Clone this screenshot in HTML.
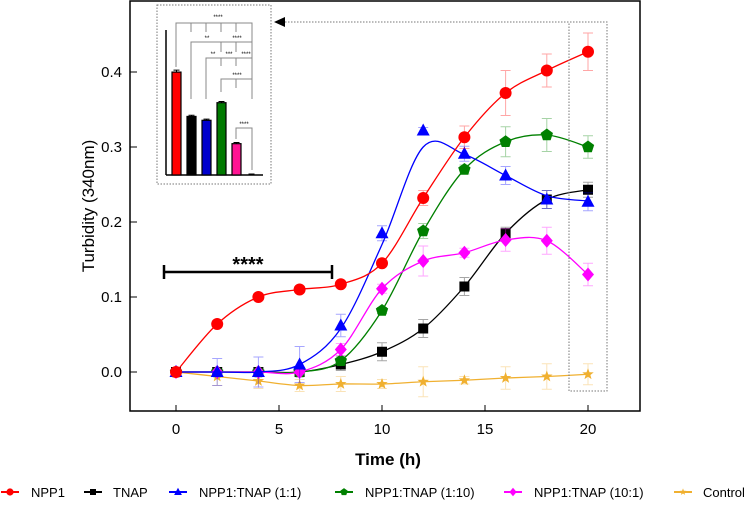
<!DOCTYPE html>
<html><head><meta charset="utf-8"><style>
body{margin:0;background:#fff;}
svg{display:block;font-family:"Liberation Sans",Arial,sans-serif;}
</style></head><body>
<svg id="chart" width="749" height="510" viewBox="0 0 749 510">
<rect x="130" y="1" width="510" height="410" fill="none" stroke="#000" stroke-width="1.5"/>
<g id="axes"></g>
<g id="series"></g>
<g id="inset"></g>
<text x="0" y="0" transform="translate(94,206) rotate(-90)" text-anchor="middle" font-size="17">Turbidity (340nm)</text>
<text x="388" y="465" text-anchor="middle" font-size="17" font-weight="bold">Time (h)</text>
<g id="legend"></g>
</svg>
<script>
const times=[0,2,4,6,8,10,12,14,16,18,20];
const npp1=[0,0.064,0.1,0.11,0.117,0.145,0.232,0.313,0.372,0.402,0.427];
const tnap=[0,0,0,0,0.01,0.027,0.058,0.114,0.185,0.23,0.243];
const mix11=[0,0,0,0.01,0.062,0.185,0.322,0.291,0.262,0.23,0.227];
const mix11Fit=[0,0,0,0.01,0.058,0.17,0.30,0.29,0.262,0.235,0.228];
const mix110=[0,0,0,0,0.015,0.082,0.188,0.27,0.307,0.316,0.3];
const mix101=[0,0,0,0,0.03,0.111,0.148,0.159,0.176,0.175,0.13];
const control=[0,-0.006,-0.012,-0.018,-0.016,-0.016,-0.013,-0.011,-0.008,-0.006,-0.003];
const errNpp1=[0,0,0,0,0,0,0.01,0.015,0.03,0.022,0.025];
const errTnap=[0,0,0,0,0.008,0.012,0.012,0.012,0.008,0.012,0.01];
const errMix11=[0.005,0.018,0.02,0.024,0.015,0.01,0.004,0.01,0.012,0.012,0.012];
const errMix110=[0,0,0,0,0.006,0.004,0.01,0.006,0.02,0.022,0.015];
const errMix101=[0,0,0,0,0.008,0.006,0.02,0.006,0.015,0.018,0.015];
const errControl=[0,0.012,0.01,0.008,0.01,0.006,0.02,0.005,0.015,0.017,0.014];
const xTicks=[0,5,10,15,20];
const yTicks=[0.0,0.1,0.2,0.3,0.4];
const yTickLabels=["0.0","0.1","0.2","0.3","0.4"];
const insetValues=[0.427,0.243,0.227,0.3,0.13,0.0];
const insetErr=[0.008,0.005,0.005,0.005,0.005,0.004];
const insetColors=["#ff0000","#000000","#0000cc","#007a00","#ff1493","#000"];

const NS="http://www.w3.org/2000/svg";
const X=t=>176+t*20.6;
const Y=v=>372-v*750;
function mk(tag,attrs,parent){const e=document.createElementNS(NS,tag);for(const k in attrs)e.setAttribute(k,attrs[k]);parent.appendChild(e);return e;}
const axes=document.getElementById('axes');
xTicks.forEach(t=>{
 const l=mk('line',{x1:X(t),x2:X(t),y1:411,y2:405,stroke:'#000'},axes);
 
 
 const tx=mk('text',{x:X(t),y:434,'text-anchor':'middle','font-size':'15'},axes);
 tx.textContent=t;
 
 
});
yTicks.forEach((v,i)=>{
 const l=mk('line',{x1:130,x2:137,y1:Y(v),y2:Y(v),stroke:'#000'},axes);
 
 
 const tx=mk('text',{x:122,y:Y(v)+5,'text-anchor':'end','font-size':'15'},axes);
 tx.textContent=yTickLabels[i];
 
 
});
const sig=mk('g',{},axes);


mk('line',{x1:164,x2:332,y1:272,y2:272,stroke:'#000','stroke-width':2.5},sig);
mk('line',{x1:164,x2:164,y1:265,y2:279,stroke:'#000','stroke-width':2.5},sig);
mk('line',{x1:332,x2:332,y1:265,y2:279,stroke:'#000','stroke-width':2.5},sig);
const st=mk('text',{x:248,y:271,'text-anchor':'middle','font-size':'20','font-weight':'bold'},sig);st.textContent='****';

function spline(xs,ys){
 let d='M'+xs[0]+','+ys[0];
 for(let i=0;i<xs.length-1;i++){
  const x0=xs[Math.max(i-1,0)],y0=ys[Math.max(i-1,0)],x1=xs[i],y1=ys[i],x2=xs[i+1],y2=ys[i+1],x3=xs[Math.min(i+2,xs.length-1)],y3=ys[Math.min(i+2,xs.length-1)];
  d+=' C'+(x1+(x2-x0)/6)+','+(y1+(y2-y0)/6)+' '+(x2-(x3-x1)/6)+','+(y2-(y3-y1)/6)+' '+x2+','+y2;
 }
 return d;
}
function marker(shape,cx,cy,color,g,s){
 s=s||1;let e;
 if(shape==='circle')e=mk('circle',{cx:cx,cy:cy,r:6*s,fill:color},g);
 else if(shape==='square')e=mk('rect',{x:cx-5*s,y:cy-5*s,width:10*s,height:10*s,fill:color},g);
 else if(shape==='tri')e=mk('polygon',{points:`${cx},${cy-7*s} ${cx+6.5*s},${cy+5*s} ${cx-6.5*s},${cy+5*s}`,fill:color},g);
 else if(shape==='pent'){let p=[];for(let k=0;k<5;k++){const a=-Math.PI/2+k*2*Math.PI/5;p.push((cx+6.5*s*Math.cos(a))+','+(cy+6.5*s*Math.sin(a)));}e=mk('polygon',{points:p.join(' '),fill:color},g);}
 else if(shape==='diamond')e=mk('polygon',{points:`${cx},${cy-7*s} ${cx+6*s},${cy} ${cx},${cy+7*s} ${cx-6*s},${cy}`,fill:color},g);
 else {let p=[];for(let k=0;k<10;k++){const a=-Math.PI/2+k*Math.PI/5,r=k%2?2.5*s:6*s;p.push((cx+r*Math.cos(a))+','+(cy+r*Math.sin(a)));}e=mk('polygon',{points:p.join(' '),fill:color},g);}
 return e;
}
const seriesList=[
 {name:'npp1',label:'NPP1',vals:npp1,fit:npp1,err:errNpp1,color:'#ff0000',shape:'circle',lx:10,tx:31},
 {name:'tnap',label:'TNAP',vals:tnap,fit:tnap,err:errTnap,color:'#000000',shape:'square',lx:93,tx:113},
 {name:'mix-1-1',label:'NPP1:TNAP (1:1)',vals:mix11,fit:mix11Fit,err:errMix11,color:'#0000ff',shape:'tri',lx:178,tx:199},
 {name:'mix-1-10',label:'NPP1:TNAP (1:10)',vals:mix110,fit:mix110,err:errMix110,color:'#008000',shape:'pent',lx:344,tx:365},
 {name:'mix-10-1',label:'NPP1:TNAP (10:1)',vals:mix101,fit:mix101,err:errMix101,color:'#ff00ff',shape:'diamond',lx:513,tx:534},
 {name:'control',label:'Control',vals:control,fit:control,err:errControl,color:'#f0b030',shape:'star',lx:683,tx:703}
];
const sg=document.getElementById('series');
const order=[5,1,3,4,2,0];
order.forEach(i=>{
 const s=seriesList[i];
 const g=mk('g',{},sg);
 
 
 s.vals.forEach((v,j)=>{
  if(s.err[j]<=0)return;
  const x=X(times[j]);const e=mk('path',{d:`M${x},${Y(v-s.err[j])} V${Y(v+s.err[j])} M${x-5},${Y(v-s.err[j])} h10 M${x-5},${Y(v+s.err[j])} h10`,stroke:s.color,'stroke-opacity':0.35,fill:'none'},g);
  
  
 });
 const p=mk('path',{d:spline(times.map(X),s.fit.map(Y)),stroke:s.color,fill:'none','stroke-width':1.3},g);
 
 
 s.vals.forEach((v,j)=>{
  const m=marker(s.shape,X(times[j]),Y(v),s.color,g);
  
  
 });
});
const lg=document.getElementById('legend');
seriesList.forEach(s=>{
 const g=mk('g',{},lg);
 
 
 mk('line',{x1:s.lx-9,x2:s.lx+9,y1:492,y2:492,stroke:s.color,'stroke-width':2},g);
 marker(s.shape,s.lx,492,s.color,g,0.6);
 const t=mk('text',{x:s.tx,y:497,'font-size':'13'},g);t.textContent=s.label;
});
const ins=document.getElementById('inset');
mk('rect',{x:157,y:5,width:114,height:179,fill:'none',stroke:'#777','stroke-dasharray':'1.5,1.5'},ins);
mk('line',{x1:166,x2:166,y1:30,y2:175,stroke:'#000','stroke-width':1.5},ins);
mk('line',{x1:166,x2:263,y1:175,y2:175,stroke:'#000','stroke-width':1.5},ins);
const IB=v=>175-v*241;
insetValues.forEach((v,i)=>{
 const cx=176.5+i*15;
 const e=mk('path',{d:`M${cx},${IB(v)} V${IB(v+insetErr[i])} M${cx-3},${IB(v+insetErr[i])} h6`,stroke:'#000',fill:'none'},ins);
 
 
 if(v>0){const r=mk('rect',{x:cx-4.5,y:IB(v),width:9,height:175-IB(v),fill:insetColors[i],stroke:'#000','stroke-width':1.2},ins);
 
 }
});
const br=mk('path',{d:'M176,67 V23 H252 V67 M191,23 V32 M206,23 V32 M221,23 V32 M236,23 V32 M191,99 V42 H252 V99 M221,42 V52 M236,42 V52 M206,99 V58 H252 V99 M221,58 V66 M236,58 V66 M221,92 V79 H252 V92 M236,79 V88 M236,139 V128 H252 V170',stroke:'#888',fill:'none'},ins);


[[218,19,'****'],[207,40,'**'],[237,40,'****'],[213,56,'**'],[229,56,'***'],[246,56,'****'],[237,77,'****'],[244,126,'****']].forEach(a=>{const t=mk('text',{x:a[0],y:a[1],'text-anchor':'middle','font-size':'6'},ins);t.textContent=a[2];});
mk('polygon',{points:'274,22 285,17 285,27',fill:'#000'},ins);
mk('path',{d:'M285,22 H607 V391 H569 V22',stroke:'#777','stroke-dasharray':'1.5,1.5',fill:'none'},ins);
</script>
</body></html>
